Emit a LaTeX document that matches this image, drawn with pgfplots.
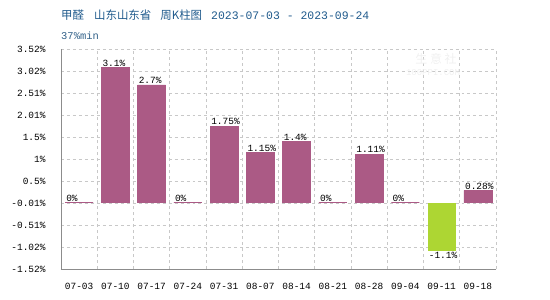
\documentclass[border=0pt]{standalone}
\usepackage{pgfplots}
\pgfplotsset{compat=1.18}
\usepackage{fontspec}
\setmainfont{Liberation Mono}
\newfontfamily\cjk{Noto Sans CJK SC}
\definecolor{barp}{HTML}{AB5A85}
\definecolor{barg}{HTML}{ADD633}
\definecolor{titc}{HTML}{1F5A8C}
\definecolor{gridc}{HTML}{C8C8C8}
\definecolor{axc}{HTML}{8C8C8C}
\begin{document}
\begin{tikzpicture}
\begin{axis}[
  at={(0,0)}, anchor=south west,
  scale only axis, width=435bp, height=220bp,
  xmin=-0.5, xmax=11.5, ymin=-1.52, ymax=3.52,
  axis x line*=bottom, axis y line*=left,
  axis line style={axc, line width=1pt, -},
  xtick={0,...,11},
  xticklabels={07-03,07-10,07-17,07-24,07-31,08-07,08-14,08-21,08-28,09-04,09-11,09-18},
  minor xtick={0.5,1.5,...,11.5},
  ytick={-1.52,-1.016,-0.512,-0.008,0.496,1.0,1.504,2.008,2.512,3.016,3.52},
  yticklabels={-1.52\%,-1.02\%,-0.51\%,-0.01\%,0.5\%,1\%,1.5\%,2.01\%,2.51\%,3.02\%,3.52\%},
  ymajorgrids, xminorgrids,
  major grid style={gridc, dashed, line width=0.7pt},
  minor grid style={gridc, dashed, line width=0.7pt},
  major tick length=0pt, minor tick length=0pt,
  tick label style={font=\fontsize{9.5}{11}\selectfont, black},
  xticklabel style={yshift=-11bp},
  yticklabel style={xshift=-12bp},
  ybar, bar width=28bp,
  clip=false,
  nodes near coords,
  point meta=explicit symbolic,
]
\addplot[bar shift=0pt, fill=barp, draw=barp, line width=0.4pt,
  nodes near coords style={font=\fontsize{9.5}{11}\selectfont, black, anchor=south west, xshift=-14bp, inner sep=1pt}]
  coordinates {(0,0)[0\%] (1,3.1)[3.1\%] (2,2.7)[2.7\%] (3,0)[0\%] (4,1.75)[1.75\%] (5,1.15)[1.15\%] (6,1.4)[1.4\%] (7,0)[0\%] (8,1.11)[1.11\%] (9,0)[0\%] (11,0.28)[0.28\%]};
\addplot[bar shift=0pt, fill=barg, draw=none,
  nodes near coords style={font=\fontsize{9.5}{11}\selectfont, black, anchor=north west, xshift=-14bp, inner sep=1pt}]
  coordinates {(10,-1.1)[-1.1\%]};
\end{axis}
\node[anchor=west, text=titc, inner sep=0pt] at (0bp,254bp)
  {\fontsize{11.5}{13}\selectfont{\cjk 甲醛\hspace{10bp}山东山东省\hspace{9bp}周K柱图}\hspace{9bp}2023-07-03 - 2023-09-24};
\node[anchor=west, text=titc!80!gray, inner sep=0pt] at (0bp,233bp)
  {\fontsize{10.5}{12}\selectfont 37\%min};
\node[text=gray!12, inner sep=0pt] at (375bp,210bp) {\fontsize{12}{12}\selectfont\cjk 生 意 社};
\node[text=gray!12, inner sep=0pt] at (372bp,196bp) {\fontsize{9}{9}\selectfont 100PPI.COM};
\pgfresetboundingbox
\path[use as bounding box] (-61bp,-31bp) rectangle (489bp,269bp);
\end{tikzpicture}
\end{document}
